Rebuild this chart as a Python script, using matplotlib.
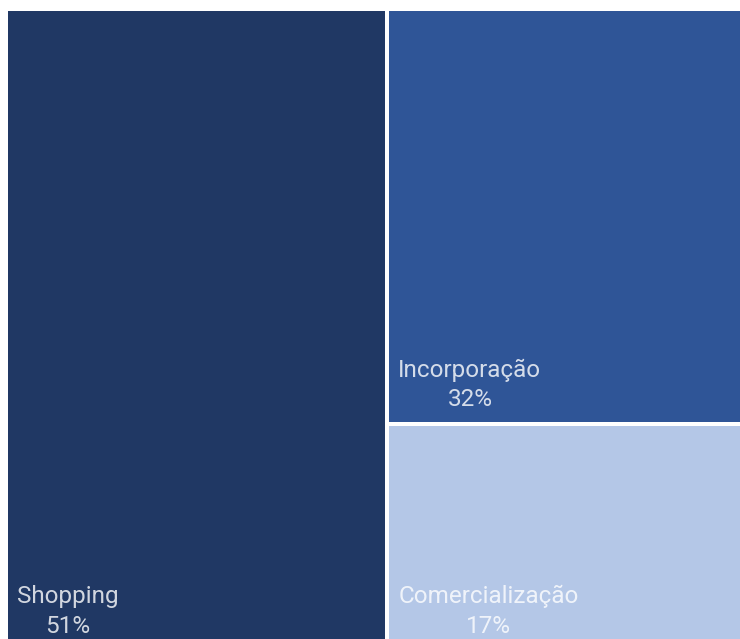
import matplotlib.pyplot as plt
from matplotlib.patches import Rectangle

# dados do treemap
categorias = ['Shopping', 'Incorporação', 'Comercialização']
valores = [51, 32, 17]
cores = ['#203864', '#2f5597', '#b4c7e7']

W, H = 732, 637   # area do treemap em pixels
gap = 4

fig = plt.figure(figsize=(7.4, 6.39), dpi=100)
ax = fig.add_axes([8 / 740, -9 / 639, W / 740, H / 639])
ax.set_xlim(0, W)
ax.set_ylim(0, H)
ax.axis('off')

total = sum(valores)
# coluna da esquerda: maior categoria
w0 = W * valores[0] / total + 6
rects = [(0, 0, w0 - gap / 2, H)]
# coluna da direita dividida verticalmente
resto = valores[1] + valores[2]
x1 = w0 + gap / 2
h2 = H * valores[2] / resto + 3.5
rects.append((x1, h2 + gap / 2, W - x1, H - h2 - gap / 2))
rects.append((x1, 0, W - x1, h2 - gap / 2))

for (x, y, w, h), nome, v, c in zip(rects, categorias, valores, cores):
    ax.add_patch(Rectangle((x, y), w, h, facecolor=c, edgecolor='none'))
    ax.text(x + 9, y + 15, f'{nome}\n{v}%', ha='left', va='baseline',
            multialignment='center', color='white', alpha=0.8,
            fontsize=17.5, family=['Roboto', 'DejaVu Sans'],
            linespacing=1.38)

fig.savefig('out.png', dpi=100)
